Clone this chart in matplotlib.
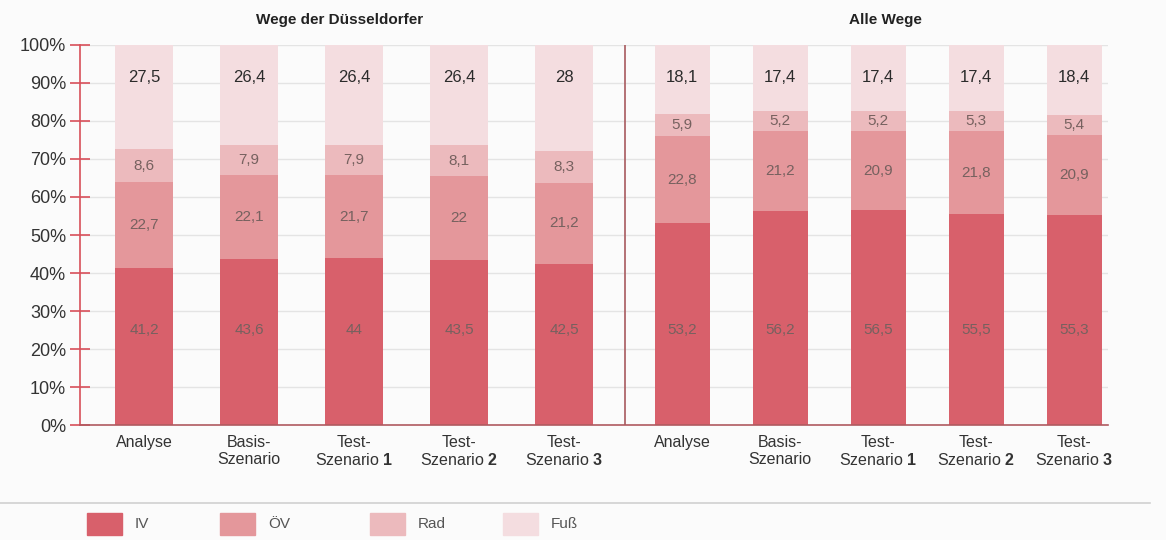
import numpy as np
import matplotlib.pyplot as plt
from matplotlib.patches import Rectangle
from matplotlib.lines import Line2D

plt.rcParams['font.family'] = ['Liberation Sans', 'DejaVu Sans']
plt.rcParams['mathtext.fontset'] = 'custom'
plt.rcParams['mathtext.rm'] = 'Liberation Sans'
plt.rcParams['mathtext.bf'] = 'Liberation Sans:bold'

### data
scenarios = ['Analyse', 'Basis-\nSzenario', 'Test-\nSzenario $\\mathbf{1}$',
             'Test-\nSzenario $\\mathbf{2}$', 'Test-\nSzenario $\\mathbf{3}$']
modes = ['IV', 'ÖV', 'Rad', 'Fuß']
group_titles = ['Wege der Düsseldorfer', 'Alle Wege']

# Wege der Düsseldorfer
dus_iv = [41.2, 43.6, 44, 43.5, 42.5]
dus_oev = [22.7, 22.1, 21.7, 22, 21.2]
dus_rad = [8.6, 7.9, 7.9, 8.1, 8.3]
dus_fuss = [27.5, 26.4, 26.4, 26.4, 28]

# Alle Wege
alle_iv = [53.2, 56.2, 56.5, 55.5, 55.3]
alle_oev = [22.8, 21.2, 20.9, 21.8, 20.9]
alle_rad = [5.9, 5.2, 5.2, 5.3, 5.4]
alle_fuss = [18.1, 17.4, 17.4, 17.4, 18.4]

colors = ['#d8606b', '#e4979b', '#ecbabd', '#f4dde0']

W, H = 1166, 540
fig = plt.figure(figsize=(W / 100, H / 100), dpi=100)
fig.patch.set_facecolor('#fbfbfb')
ax = fig.add_axes([80 / W, 115 / H, (1108 - 80) / W, 380 / H])
ax.set_facecolor('#fbfbfb')

def fmt(v):
    return ('%g' % v).replace('.', ',')

groups = [
    (144 + 105 * np.arange(5), 58, [dus_iv, dus_oev, dus_rad, dus_fuss]),
    (682 + 98 * np.arange(5), 55, [alle_iv, alle_oev, alle_rad, alle_fuss]),
]

for xs, width, series in groups:
    bottom = np.zeros(5)
    for k, vals in enumerate(series):
        vals = np.array(vals, dtype=float)
        ax.bar(xs, vals, width, bottom=bottom, color=colors[k], zorder=2)
        for x, b, v in zip(xs, bottom, vals):
            if k == 0:
                y = 25
            elif k == 3:
                y = 91.5
            else:
                y = b + v / 2
            col = '#2b2b2b' if k == 3 else '#76615f'
            ax.text(x, y, fmt(v), ha='center', va='center',
                    fontsize=12 if k == 3 else 11, color=col, zorder=3)
        bottom += vals

allx = np.concatenate([g[0] for g in groups])
ax.set_xticks(allx)
ax.set_xticklabels(scenarios * 2, fontsize=11.5, color='#333333', linespacing=1.2)
ax.tick_params(axis='x', length=0, pad=7)

ax.set_xlim(80, 1108)
ax.set_ylim(0, 100)
ax.set_yticks(np.arange(0, 101, 10))
ax.set_yticklabels(['%d%%' % t for t in range(0, 101, 10)], fontsize=13, color='#333333')
ax.tick_params(axis='y', direction='inout', length=14, width=1.2, color='#d8505a', pad=3)

ax.yaxis.grid(True, color='#e4e4e4', lw=1, zorder=0)
ax.set_axisbelow(True)

for s in ['top', 'right']:
    ax.spines[s].set_visible(False)
ax.spines['left'].set_color('#d8505a')
ax.spines['left'].set_linewidth(1.2)
ax.spines['bottom'].set_color('#b05a60')
ax.spines['bottom'].set_linewidth(1.2)

ax.axvline(625, color='#a85a5e', lw=1.2, zorder=3)

fig.text(340 / W, 1 - 20 / H, group_titles[0], ha='center', va='center',
         fontsize=11, fontweight='bold', color='#222222')
fig.text(885 / W, 1 - 20 / H, group_titles[1], ha='center', va='center',
         fontsize=11, fontweight='bold', color='#222222')

# legend
fig.add_artist(Line2D([0, 1150 / W], [1 - 503 / H] * 2, color='#d0d0d0', lw=1.2))
leg_x = [87, 220, 370, 503]
for lx, lab, c in zip(leg_x, modes, colors):
    fig.add_artist(Rectangle((lx / W, 1 - 535 / H), 35 / W, 22 / H,
                             transform=fig.transFigure, color=c))
    fig.text((lx + 48) / W, 1 - 524 / H, lab, ha='left', va='center',
             fontsize=11, color='#555555')

fig.savefig('out.png', dpi=100, facecolor=fig.get_facecolor())
